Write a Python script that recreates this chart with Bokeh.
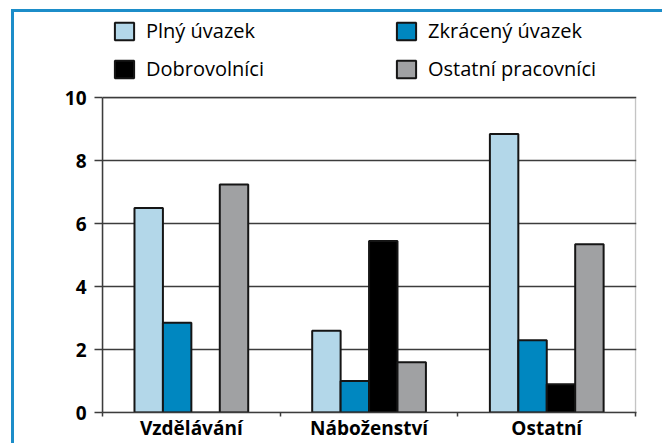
import numpy as np
from bokeh.plotting import figure
from bokeh.models import (ColumnDataSource, Range1d, FixedTicker, Legend, LegendItem,
                          BoxAnnotation)
from bokeh.embed import file_html
from bokeh.resources import INLINE

categories = ["Vzdělávání", "Náboženství", "Ostatní"]
series_names = ["Plný úvazek", "Zkrácený úvazek", "Dobrovolníci", "Ostatní pracovníci"]
plny = [6.5, 2.6, 8.85]
zkraceny = [2.85, 1.0, 2.3]
dobrovolnici = [0.0, 5.45, 0.9]
ostatni_prac = [7.25, 1.6, 5.35]
y_ticks = [0, 2, 4, 6, 8, 10]

series_values = [plny, zkraceny, dobrovolnici, ostatni_prac]
colors = ["#b3d7e9", "#0087c0", "#000000", "#a0a1a3"]
offsets = [-0.24, -0.08, 0.08, 0.24]
bar_w = 0.16

FONT = "Open Sans"
DARK = "#3c3c3c"
TEAL = "#1c8dc9"

# extra headroom above 10 holds the legend inside the frame
Y_TOP = 12.62

frame_bg = (f"linear-gradient({TEAL},{TEAL}) 11px 9px / 3px 100% no-repeat, "
            f"linear-gradient({TEAL},{TEAL}) 11px 9px / 100% 3px no-repeat, #ffffff")

p = figure(width=662, height=443,
           x_range=Range1d(0, 3.005), y_range=Range1d(0, Y_TOP),
           output_backend="svg", toolbar_location=None,
           min_border_left=102, min_border_right=26, min_border_top=15, min_border_bottom=0,
           styles={"background": frame_bg})

p.background_fill_color = "white"
p.border_fill_alpha = 0
p.outline_line_color = None

base = np.arange(len(categories)) + 0.5
renderers = {}
for name, vals, col, off in zip(series_names, series_values, colors, offsets):
    src = ColumnDataSource(dict(x=base + off, top=vals))
    renderers[name] = p.vbar(x="x", top="top", width=bar_w, bottom=0, source=src,
                             fill_color=col, line_color="#151515", line_width=2)

# plot-area box (0..3 x 0..10)
p.add_layout(BoxAnnotation(left=0, right=len(categories), bottom=0, top=y_ticks[-1],
                           fill_alpha=0, line_color=DARK, line_width=1.5))

# x axis
xa = p.xaxis[0]
xa.ticker = FixedTicker(ticks=list(base), minor_ticks=list(range(len(categories) + 1)))
xa.major_label_overrides = {float(b): c for b, c in zip(base, categories)}
xa.major_tick_line_color = None
xa.major_tick_out = 4
xa.minor_tick_out = 4
xa.minor_tick_in = 0
xa.minor_tick_line_color = DARK
xa.minor_tick_line_width = 1.5
xa.axis_line_color = DARK
xa.axis_line_width = 1.5
xa.major_label_standoff = -2
xa.major_label_text_font = FONT
xa.major_label_text_font_style = "bold"
xa.major_label_text_font_size = "19px"
xa.major_label_text_line_height = 0.6
xa.major_label_text_color = "black"

# y axis
ya = p.yaxis[0]
ya.bounds = (0, y_ticks[-1])
ya.ticker = FixedTicker(ticks=y_ticks, minor_ticks=[])
ya.major_tick_out = 8
ya.major_tick_in = 0
ya.major_tick_line_color = DARK
ya.major_tick_line_width = 1.5
ya.axis_line_color = DARK
ya.axis_line_width = 1.5
ya.major_label_standoff = 8
ya.major_label_text_font = FONT
ya.major_label_text_font_style = "bold"
ya.major_label_text_font_size = "19px"
ya.major_label_text_color = "black"

p.xgrid.visible = False
p.ygrid.ticker = FixedTicker(ticks=y_ticks, minor_ticks=[])
p.ygrid.grid_line_color = DARK
p.ygrid.grid_line_width = 1.5

order = ["Plný úvazek", "Dobrovolníci", "Zkrácený úvazek", "Ostatní pracovníci"]
items = [LegendItem(label=n, renderers=[renderers[n]]) for n in order]
legend = Legend(items=items, ncols=2, location=(10, 330),
                padding=0, margin=0, spacing=11,
                glyph_width=24, glyph_height=22, label_width=237,
                label_standoff=10,
                label_text_font=FONT, label_text_font_size="20px", label_text_color="black",
                border_line_color=None, background_fill_alpha=0)
p.add_layout(legend, "center")

open("out.html", "w").write(file_html(p, INLINE))
